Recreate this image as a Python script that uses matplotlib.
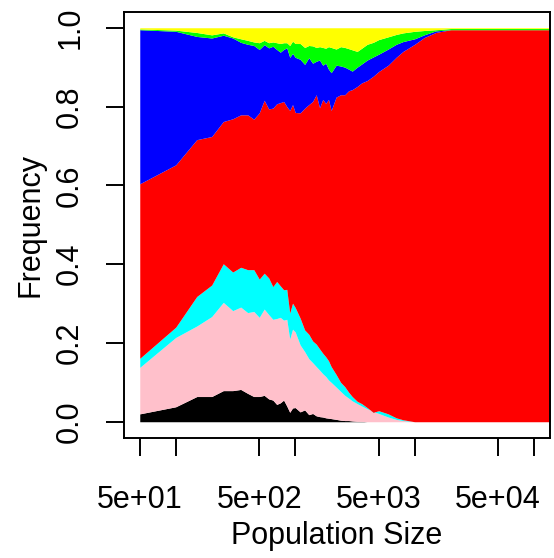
import numpy as np
import matplotlib
matplotlib.use('Agg')
import matplotlib.pyplot as plt
from matplotlib.ticker import NullLocator

# population sizes (x) and cumulative upper edge of each allele band
pop_size = [50, 100, 150, 200, 250, 300, 350, 400, 450, 500, 550, 600, 650, 700, 750, 800, 850, 900, 950, 1000,
            1100, 1200, 1300, 1400, 1500, 1600, 1700, 1800, 1900, 2000,
            2200, 2400, 2600, 2800, 3000,
            3300, 3600, 4000, 4500, 5000,
            6000, 7000, 8000, 10000, 12000, 15000, 20000, 30000, 50000, 100000, 140000]

top_black = [0.020, 0.038, 0.064, 0.064, 0.079, 0.079, 0.082, 0.072, 0.064, 0.064, 0.067, 0.058, 0.055, 0.044, 0.048, 0.055, 0.040, 0.024, 0.035, 0.036,
             0.025, 0.030, 0.018, 0.021, 0.015, 0.013, 0.012, 0.010, 0.009, 0.008,
             0.006, 0.004, 0.003, 0.003, 0.002,
             0.001, 0.001, 0, 0, 0,
             0, 0, 0, 0, 0, 0, 0, 0, 0, 0, 0]

top_pink = [0.138, 0.214, 0.243, 0.267, 0.303, 0.282, 0.291, 0.277, 0.280, 0.265, 0.286, 0.272, 0.260, 0.262, 0.265, 0.258, 0.260, 0.210, 0.235, 0.228,
            0.195, 0.178, 0.160, 0.150, 0.140, 0.131, 0.122, 0.115, 0.106, 0.100,
            0.088, 0.077, 0.067, 0.060, 0.053,
            0.046, 0.040, 0.033, 0.026, 0.021,
            0.012, 0.006, 0.003, 0, 0, 0, 0, 0, 0, 0, 0]

top_cyan = [0.161, 0.240, 0.318, 0.347, 0.401, 0.380, 0.392, 0.386, 0.386, 0.362, 0.377, 0.365, 0.343, 0.356, 0.345, 0.335, 0.336, 0.276, 0.301, 0.290,
            0.263, 0.233, 0.222, 0.205, 0.197, 0.185, 0.174, 0.165, 0.155, 0.140,
            0.120, 0.100, 0.089, 0.075, 0.064,
            0.052, 0.046, 0.036, 0.024, 0.028,
            0.020, 0.010, 0.005, 0, 0, 0, 0, 0, 0, 0, 0]

top_red = [0.604, 0.652, 0.716, 0.724, 0.762, 0.769, 0.779, 0.779, 0.768, 0.784, 0.816, 0.794, 0.796, 0.807, 0.810, 0.813, 0.800, 0.790, 0.805, 0.785,
           0.784, 0.796, 0.805, 0.813, 0.830, 0.797, 0.818, 0.808, 0.818, 0.790,
           0.824, 0.830, 0.830, 0.840, 0.843,
           0.851, 0.860, 0.866, 0.877, 0.889,
           0.905, 0.925, 0.940, 0.958, 0.975, 0.988, 0.995, 0.995, 0.995, 0.995, 0.995]

top_blue = [0.995, 0.991, 0.978, 0.974, 0.981, 0.974, 0.963, 0.958, 0.955, 0.945, 0.957, 0.949, 0.953, 0.945, 0.938, 0.945, 0.949, 0.925, 0.935, 0.925,
            0.920, 0.907, 0.924, 0.910, 0.915, 0.918, 0.905, 0.910, 0.895, 0.886,
            0.905, 0.903, 0.900, 0.895, 0.890,
            0.900, 0.908, 0.918, 0.926, 0.933,
            0.946, 0.958, 0.965, 0.972, 0.982, 0.992, 0.995, 0.995, 0.995, 0.995, 0.995]

top_green = [0.997, 0.994, 0.988, 0.982, 0.987, 0.977, 0.972, 0.968, 0.964, 0.962, 0.968, 0.962, 0.964, 0.962, 0.960, 0.962, 0.962, 0.955, 0.966, 0.960,
             0.960, 0.950, 0.955, 0.954, 0.950, 0.952, 0.950, 0.948, 0.952, 0.950,
             0.946, 0.952, 0.950, 0.947, 0.944,
             0.940, 0.948, 0.958, 0.963, 0.970,
             0.977, 0.983, 0.987, 0.991, 0.993, 0.995, 0.998, 0.998, 0.998, 0.998, 0.998]

top_yellow = [1.0] * len(pop_size)

band_colors = ['black', '#FFC0CB', '#00FFFF', '#FF0000', '#0000FF', '#00FF00', '#FFFF00']

plt.rcParams['font.family'] = ['Liberation Sans', 'DejaVu Sans']

fig = plt.figure(figsize=(5.54, 5.58), dpi=100)
ax = fig.add_axes([124/554, 1-437.5/558, 426/554, 425.5/558])

x = np.array(pop_size)
edges = [np.zeros(len(x)), top_black, top_pink, top_cyan, top_red, top_blue, top_green, top_yellow]
for i in range(7):
	ax.fill_between(x, edges[i], edges[i+1], color=band_colors[i], linewidth=0)

ax.set_xscale('log')
ax.set_xlim(10**1.567, 10**5.133)
ax.set_ylim(-0.04, 1.04)

xt = [50, 100, 500, 1000, 5000, 10000, 50000, 100000]
xl = ['5e+01', '', '5e+02', '', '5e+03', '', '5e+04', '']
ax.set_xticks(xt, labels=xl, va='baseline')
ax.xaxis.set_minor_locator(NullLocator())
yt = [0.0, 0.2, 0.4, 0.6, 0.8, 1.0]
ax.set_yticks(yt, labels=['%.1f' % v for v in yt], rotation=90, rotation_mode='anchor', ha='center', va='baseline')

for s in ax.spines.values():
	s.set_linewidth(1.4)
ax.tick_params(axis='both', direction='out', length=13, width=1.4, labelsize=22)
ax.tick_params(axis='x', pad=37.5)
ax.tick_params(axis='y', pad=20)

fig.text(337/554, 1-544/558, 'Population Size', ha='center', va='baseline', fontsize=22)
fig.text(38/554, 1-224.7/558, 'Frequency', rotation=90, rotation_mode='anchor', ha='center', va='baseline', fontsize=22)

fig.savefig('out.png', dpi=100)
